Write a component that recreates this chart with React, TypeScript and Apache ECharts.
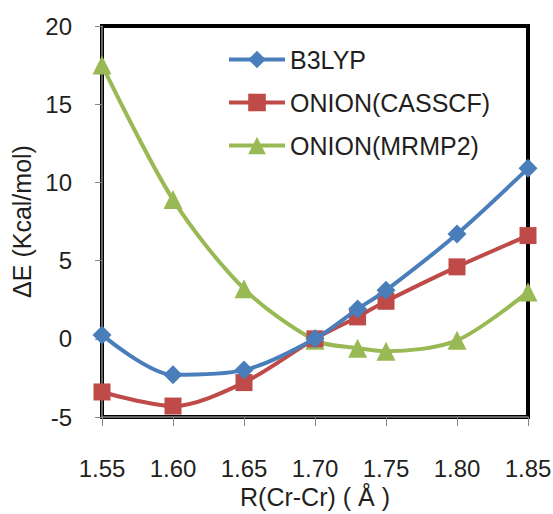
import React, { useEffect, useRef } from "react";
import * as echarts from "echarts";

const rValues = [1.55, 1.6, 1.65, 1.7, 1.73, 1.75, 1.8, 1.85];
const b3lyp = [0.25, -2.3, -2.0, 0, 1.9, 3.1, 6.7, 10.9];
const casscf = [-3.4, -4.3, -2.8, 0, 1.4, 2.4, 4.6, 6.6];
const mrmp2 = [17.5, 8.9, 3.2, -0.1, -0.6, -0.8, -0.1, 3.0];
const seriesNames = ["B3LYP", "ONION(CASSCF)", "ONION(MRMP2)"];
const xTitle = "R(Cr-Cr) ( Å )";
const yTitle = "ΔE (Kcal/mol)";

const FONT = "Liberation Sans, Arial, sans-serif";
const TXT = "#231f20";

export default function App() {
  const ref = useRef<HTMLDivElement>(null);
  useEffect(() => {
    if (!ref.current) return;
    const chart = echarts.init(ref.current, null, { renderer: "svg" });
    const mk = (vals: number[]) => rValues.map((x, i) => [x, vals[i]]);
    const colors = ["#4a7ebb", "#be4b48", "#98b954"];
    const symbols = ["diamond", "rect", "triangle"];
    const sizes = [19, 17, 19];
    const datas = [b3lyp, casscf, mrmp2];
    chart.setOption({
      animation: false,
      textStyle: { fontFamily: FONT },
      grid: {
        left: 102,
        right: 25,
        top: 26,
        bottom: 97,
        outerBoundsMode: "none",
        containLabel: false,
        show: true,
        borderColor: "#000",
        borderWidth: 4,
        backgroundColor: "transparent",
      },
      legend: {
        orient: "vertical",
        left: 222,
        top: 42,
        itemWidth: 56,
        itemHeight: 22,
        itemGap: 18,
        data: seriesNames,
        lineStyle: { width: 4 },
        textStyle: { fontSize: 25, color: TXT, fontFamily: FONT },
      },
      xAxis: {
        type: "value",
        min: 1.55,
        max: 1.85,
        interval: 0.05,
        name: xTitle,
        nameLocation: "middle",
        nameGap: 66,
        nameTextStyle: { fontSize: 25, color: TXT },
        axisLine: { show: true, onZero: false, lineStyle: { color: "#868686", width: 1.5 } },
        axisTick: { show: true, inside: false, length: 9, lineStyle: { color: "#868686" } },
        axisLabel: {
          fontSize: 24,
          color: TXT,
          margin: 39,
          formatter: (v: number) => v.toFixed(2),
        },
        splitLine: { show: false },
      },
      yAxis: {
        type: "value",
        min: -5,
        max: 20,
        interval: 5,
        name: yTitle,
        nameLocation: "middle",
        nameGap: 58,
        nameTextStyle: { fontSize: 25, color: TXT },
        axisLine: { show: true, onZero: false, lineStyle: { color: "#868686", width: 1.5 } },
        axisTick: { show: true, inside: false, length: 7, lineStyle: { color: "#868686" } },
        axisLabel: { fontSize: 24, color: TXT, margin: 30 },
        splitLine: { show: false },
      },
      series: seriesNames.map((name, i) => ({
        name,
        type: "line",
        smooth: 0.3,
        data: mk(datas[i]),
        symbol: symbols[i],
        symbolSize: sizes[i],
        itemStyle: { color: colors[i] },
        lineStyle: { color: colors[i], width: 4 },
        z: 3 - i,
      })),
    });
    return () => chart.dispose();
  }, []);
  return (
    <div
      ref={ref}
      style={{ position: "absolute", left: 0, top: 0, width: 553, height: 514 }}
    />
  );
}
